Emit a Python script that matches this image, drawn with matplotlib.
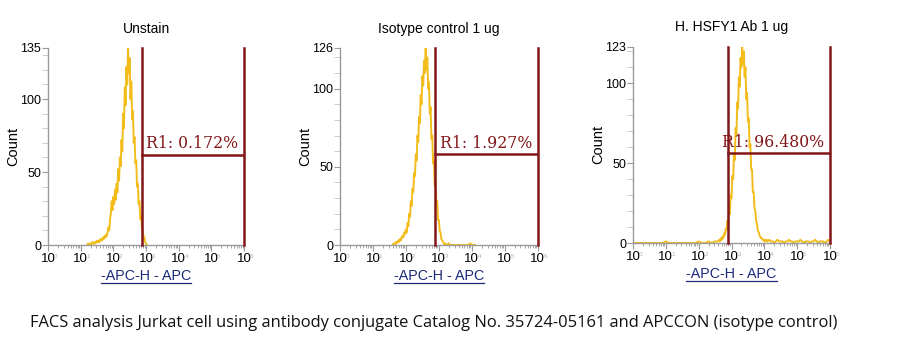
import numpy as np
import matplotlib
matplotlib.use("Agg")
import matplotlib.pyplot as plt
from matplotlib.lines import Line2D
from matplotlib.ticker import FixedLocator, NullFormatter

plt.rcParams['font.family'] = ['Liberation Sans', 'DejaVu Sans']

# panel titles / y maxima / gate
titles = ["Unstain", "Isotype control 1 ug", "H. HSFY1 Ab 1 ug"]
ymax = [135, 126, 123]
gate_pct = ["R1: 0.172%", "R1: 1.927%", "R1: 96.480%"]
gate_lo = [10 ** 2.88, 10 ** 2.87, 10 ** 2.88]   # gate start (channel value)
gate_hi = 1e6
gate_y = [62, 58, 56.5]                          # height of gate marker line

# histograms: pieces of (log10 channel start, step, counts)
h1 = [
    (1.2, 0.025, [0, 1, 0, 1, 1, 0, 2, 1, 1, 2, 1, 2, 3, 2, 3, 2, 4,
                  4, 3, 5, 4, 6, 5, 7, 6, 9, 12, 10, 18,
                  22, 30, 24, 33, 28, 38, 31, 42, 36, 52, 44, 60, 54, 72, 64, 90, 80, 108, 96, 122, 110, 135,
                  118, 128, 100, 112, 86, 92, 70, 74, 56, 58, 40, 42, 28, 30, 18, 20, 12, 10, 6, 5, 2, 1, 0]),
]
h2 = [
    (1.6, 0.025, [0, 1, 0, 1, 2, 1, 2, 3, 2, 4, 3, 5, 6, 5, 8, 7, 10, 8, 14, 12, 20, 18, 28, 25, 36,
                  34, 46, 44, 58, 54, 70, 66, 82, 78, 96, 90, 108, 102, 118, 110, 126, 112, 120, 100, 104,
                  84, 88, 68, 70, 52, 54, 38, 40, 26, 28, 16, 16, 9, 8, 4, 3, 2, 1, 0, 1, 0]),
    (3.25, 0.05, [0, 1, 0, 0, 0, 0, 0, 0, 0, 0, 0, 0, 0, 0, 1, 0, 0, 0]),
]
h3 = [
    (0.0, 0.1, [0, 0, 0, 0, 0, 0, 0, 0, 0, 0, 1, 0, 0, 0, 0, 0, 0, 0, 0, 0,
                1, 0, 0, 1, 0, 1]),
    (2.6, 0.025, [1, 2, 1, 3, 2, 4, 3, 6, 5, 9, 8, 14, 12, 20, 18, 30, 28, 42, 40, 56, 52, 72, 68,
                  88, 84, 104, 98, 116, 110, 123, 112, 120, 104, 110, 90, 94, 76, 78, 60, 62, 46, 46,
                  32, 32, 22, 20, 14, 12, 8, 7, 5, 4, 3, 3, 2, 2, 1, 2, 1, 2]),
    (4.1, 0.05, [1, 2, 1, 1, 0, 1, 2, 1, 1, 1, 0, 1, 1, 2, 1, 1, 0, 1, 1, 1, 2, 1, 0, 1, 1, 1, 0, 1,
                 1, 2, 1, 0, 1, 1, 1, 0, 1, 2, 1]),
]
hists = [h1, h2, h3]

caption = ("FACS analysis Jurkat cell using antibody conjugate Catalog No. "
           "35724-05161 and APCCON (isotype control)")

hist_color = "#F2BC1B"
gate_color = "#821618"
spine_color = "#9A9A9A"
label_color = "#1C2A7A"

fig = plt.figure(figsize=(9.14, 3.53), dpi=100)
W, H = 914, 353
boxes = [(48, 48, 196, 197), (340, 48, 197.7, 197), (633, 46.7, 197, 196.3)]

for i in range(3):
    x0, y0, w, h = boxes[i]
    ax = fig.add_axes([x0 / W, 1 - (y0 + h) / H, w / W, h / H])
    xs, ys = [], []
    for start, st, counts in hists[i]:
        xs.append(start + st * np.arange(len(counts)))
        ys.append(np.array(counts, dtype=float))
    x = 10 ** np.concatenate(xs)
    y = np.concatenate(ys)
    ax.plot(x, y, color=hist_color, lw=1.4, zorder=2)

    ax.set_xscale('log')
    ax.set_xlim(1, 1e6)
    ax.set_ylim(0, ymax[i])

    # gate
    ax.plot([gate_lo[i], gate_lo[i]], [0, ymax[i]], color=gate_color, lw=1.8, zorder=3, clip_on=False)
    ax.plot([gate_hi, gate_hi], [0, ymax[i]], color=gate_color, lw=1.8, zorder=3, clip_on=False)
    ax.plot([gate_lo[i], gate_hi], [gate_y[i], gate_y[i]], color=gate_color, lw=1.8, zorder=3)
    ax.annotate(gate_pct[i], xy=(gate_hi, gate_y[i]), xytext=(-4, 1.5), textcoords='offset points',
                color=gate_color, fontsize=11.3, family=['DejaVu Serif'],
                va='bottom', ha='right', zorder=4)

    for s in ['top', 'right']:
        ax.spines[s].set_visible(False)
    for s in ['left', 'bottom']:
        ax.spines[s].set_color(spine_color)
        ax.spines[s].set_linewidth(1.0)

    ax.yaxis.set_major_locator(FixedLocator([0, 50, 100, ymax[i]]))
    ax.yaxis.set_minor_locator(FixedLocator(list(range(10, ymax[i], 10))))
    ax.set_yticklabels(['0', '50', '100', str(ymax[i])])
    ax.tick_params(axis='y', which='major', length=4, width=0.8, color=spine_color,
                   labelsize=9, pad=1)
    ax.tick_params(axis='y', which='minor', length=4, width=0.6, color='#c4c4c4')

    ax.xaxis.set_major_locator(FixedLocator([10.0 ** k for k in range(7)]))
    ax.xaxis.set_minor_locator(FixedLocator([m * 10.0 ** k for k in range(6) for m in range(2, 10)]))
    ax.xaxis.set_minor_formatter(NullFormatter())
    ax.set_xticklabels(['10'] * 7)
    ax.tick_params(axis='x', which='major', length=4, width=0.8, color=spine_color,
                   labelsize=9.5, pad=2)
    ax.tick_params(axis='x', which='minor', length=2.5, width=0.6, color=spine_color)
    for k in range(7):
        ax.text(10.0 ** k * 1.5, -0.045, str(k), transform=ax.get_xaxis_transform(),
                fontsize=4.5, color='#b0b0b0', va='top', ha='left')

    ax.set_title(titles[i], fontsize=10, pad=11)
    ax.set_ylabel("Count", fontsize=10.5, labelpad=0)
    ax.set_xlabel("-APC-H - APC", fontsize=10.3, color=label_color, labelpad=3)

fig.text(30 / W, 1 - 323 / H, caption, fontsize=11.9, ha='left', va='center',
         family=['Open Sans', 'DejaVu Sans'], color='#111111')

# underline the x labels
fig.canvas.draw()
r = fig.canvas.get_renderer()
for ax in fig.axes:
    bb = ax.xaxis.label.get_window_extent(r)
    fig.add_artist(Line2D([bb.x0 / W, bb.x1 / W], [(bb.y0 + 0.5) / H, (bb.y0 + 0.5) / H],
                          color=label_color, lw=0.9))

fig.savefig("out.png", dpi=100)
